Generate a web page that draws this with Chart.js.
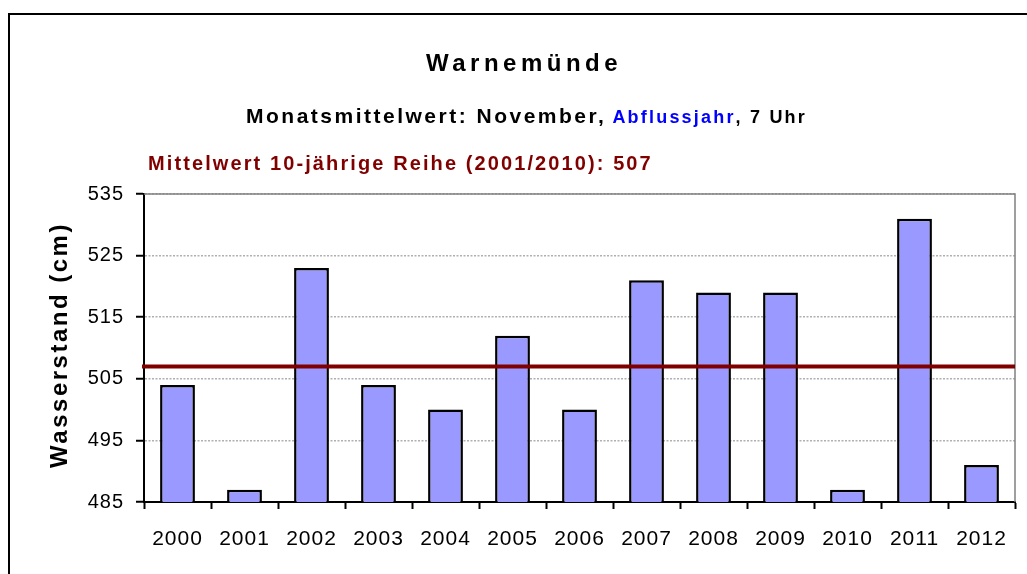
<!DOCTYPE html>
<html>
<head>
<meta charset="utf-8">
<script src="https://cdn.jsdelivr.net/npm/chart.js@4/dist/chart.umd.min.js"></script>
<style>
  html, body { margin: 0; padding: 0; background: #fff; }
  #wrap { position: relative; width: 1027px; height: 574px; overflow: hidden; }
  #frame { position: absolute; left: 8px; top: 13px; width: 1100px; height: 700px;
           border-left: 2px solid #000; border-top: 2px solid #000; }
  canvas { position: absolute; left: 0; top: 0; }
</style>
</head>
<body>
<div id="wrap">
  <div id="frame"></div>
  <canvas id="chart" width="1027" height="574"></canvas>
</div>
<script>
// Data
const years = ['2000', '2001', '2002', '2003', '2004', '2005', '2006', '2007', '2008', '2009', '2010', '2011', '2012'];
const waterLevels = [504, 487, 523, 504, 500, 512, 500, 521, 519, 519, 487, 531, 491];
const meanValue = 507;
const yTicks = [485, 495, 505, 515, 525, 535];

// Texts
const titleText = 'Warnemünde';
const subtitleParts = [
    { text: 'Monatsmittelwert: November,', color: '#000000', size: 21, gap: 6 },
    { text: 'Abflussjahr', color: '#0000ff', size: 18, gap: 0 },
    { text: ', 7 Uhr', color: '#000000', size: 18, gap: 0 }
];
const meanLabel = 'Mittelwert 10-jährige Reihe (2001/2010): 507';
const yAxisTitle = 'Wasserstand (cm)';

const FONT = '"Liberation Sans", Arial, sans-serif';

// Draws the heading lines, the y axis title, the plot frame and the mean line
const decorPlugin = {
    id: 'decor',
    beforeDraw(chart) {
        // the tick labels in the original are slightly spaced out
        chart.ctx.letterSpacing = '1px';
    },
    beforeDatasetsDraw(chart) {
        const { ctx, chartArea } = chart;
        ctx.save();
        // grey frame on top and right of the plot
        ctx.strokeStyle = '#808080';
        ctx.lineWidth = 1.5;
        ctx.beginPath();
        ctx.moveTo(chartArea.left, chartArea.top);
        ctx.lineTo(chartArea.right, chartArea.top);
        ctx.lineTo(chartArea.right, chartArea.bottom);
        ctx.stroke();
        ctx.restore();
    },
    afterDatasetsDraw(chart) {
        const { ctx, chartArea, scales } = chart;
        const y = scales.y.getPixelForValue(meanValue);
        ctx.save();
        ctx.strokeStyle = '#800000';
        ctx.lineWidth = 4;
        ctx.beginPath();
        ctx.moveTo(chartArea.left - 2, y);
        ctx.lineTo(chartArea.right, y);
        ctx.stroke();
        ctx.restore();
    },
    afterDraw(chart) {
        const ctx = chart.ctx;
        ctx.save();
        ctx.textBaseline = 'alphabetic';

        // main title
        ctx.font = 'bold 24px ' + FONT;
        ctx.letterSpacing = '4.5px';
        ctx.fillStyle = '#000';
        ctx.textAlign = 'center';
        ctx.fillText(titleText, 524, 71);

        // subtitle in several colours
        ctx.textAlign = 'left';
        let x = 246;
        subtitleParts.forEach(p => {
            ctx.font = 'bold ' + p.size + 'px ' + FONT;
            ctx.letterSpacing = (p.size > 20 ? 2.5 : 2.2) + 'px';
            ctx.fillStyle = p.color;
            ctx.fillText(p.text, x, 123);
            x += ctx.measureText(p.text).width + p.gap;
        });

        // mean value line label
        ctx.font = 'bold 20px ' + FONT;
        ctx.letterSpacing = '2.1px';
        ctx.fillStyle = '#800000';
        ctx.fillText(meanLabel, 148, 170);

        // y axis title
        ctx.translate(67, 345);
        ctx.rotate(-Math.PI / 2);
        ctx.font = 'bold 24px ' + FONT;
        ctx.letterSpacing = '2.5px';
        ctx.fillStyle = '#000';
        ctx.textAlign = 'center';
        ctx.fillText(yAxisTitle, 0, 0);
        ctx.restore();
    }
};

const ctx = document.getElementById('chart').getContext('2d');
new Chart(ctx, {
    type: 'bar',
    data: {
        labels: years,
        datasets: [{
            data: waterLevels,
            backgroundColor: '#9999ff',
            borderColor: '#000000',
            borderWidth: 2.5,
            borderSkipped: 'bottom',
            barPercentage: 0.52,
            categoryPercentage: 1.0
        }]
    },
    options: {
        responsive: false,
        animation: false,
        layout: { padding: { top: 194, right: 12, left: 0, bottom: 0 } },
        plugins: {
            legend: { display: false },
            title: { display: false },
            tooltip: { enabled: false }
        },
        scales: {
            x: {
                afterFit(scale) { scale.height = 72; },
                grid: {
                    display: true,
                    offset: true,
                    drawOnChartArea: false,
                    tickLength: 7,
                    tickColor: '#000',
                    tickWidth: 2
                },
                border: { color: '#000', width: 2 },
                ticks: {
                    color: '#000',
                    padding: 18,
                    font: { family: FONT, size: 21 }
                }
            },
            y: {
                min: 485,
                max: 535,
                afterFit(scale) { scale.width = 144; },
                afterBuildTicks(scale) { scale.ticks = yTicks.map(v => ({ value: v })); },
                grid: {
                    color: '#b0b0b0',
                    lineWidth: 1.5,
                    tickLength: 8,
                    tickColor: '#000',
                    tickWidth: 2
                },
                border: { color: '#000', width: 2, dash: [2, 1.5] },
                ticks: {
                    color: '#000',
                    padding: 12,
                    font: { family: FONT, size: 20 }
                }
            }
        }
    },
    plugins: [decorPlugin]
});
</script>
</body>
</html>
